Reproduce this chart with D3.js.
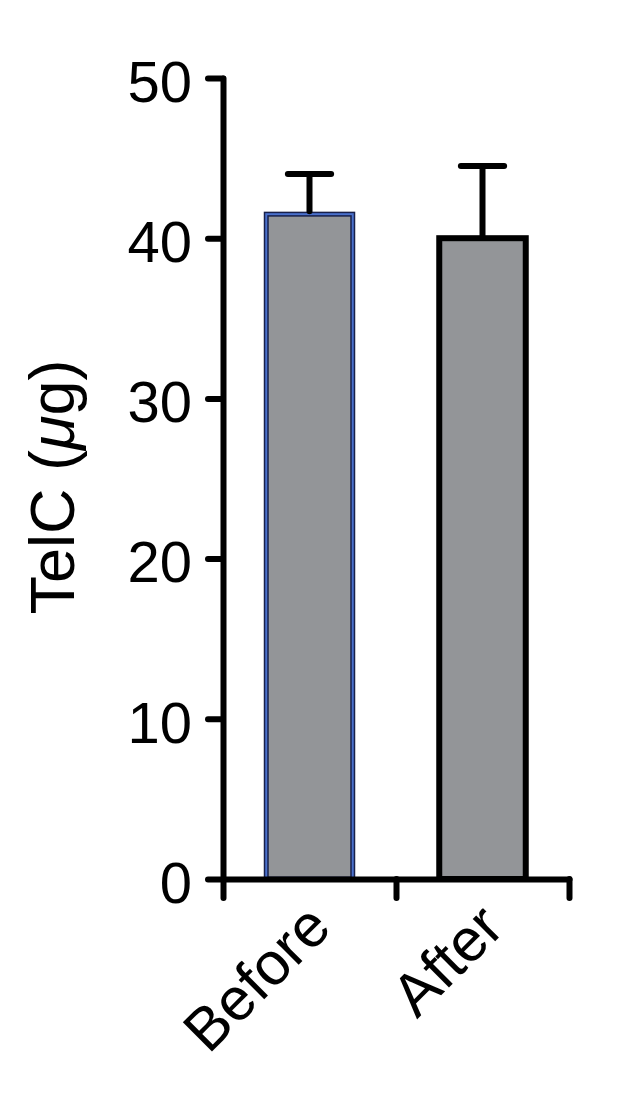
<!DOCTYPE html>
<html lang="en">
<head>
	<meta charset="UTF-8">
	<title>TelC before / after</title>
	<style>
		body { margin: 0; background: #fff; }
		.chart-svg { background-color: #fff; }
		.Axis path,
		.Axis line {
			stroke: #000;
			stroke-width: 6;
			stroke-linecap: round;
		}
		.Axis text {
			font-family: Helvetica, Arial, "Liberation Sans", sans-serif;
			font-size: 58px;
			fill: #000;
		}
		.lbl {
			font-family: Helvetica, Arial, "Liberation Sans", sans-serif;
			fill: #000;
		}
	</style>
	<script src="https://d3js.org/d3.v7.min.js"></script>
</head>
<body>
	<script type="text/javascript">

		// data
		var groups = ["Before", "After"];
		var means  = [41.5, 40.0];
		var errs   = [2.5, 4.5];      // upper SD only
		var yTicks = [0, 10, 20, 30, 40, 50];

		const w = 617,
			  h = 1100;

		const svg = d3.select("body")
			        .append("svg")
			        .attr("width", w)
			        .attr("height", h)
			        .attr("class", "chart-svg");

		var yScale = d3.scaleLinear()
					   .domain([0, 50])
					   .range([879, 78]);

		var xScale = d3.scaleBand()
					   .domain(groups)
					   .range([223, 569])
					   .padding(0);

		// x axis: ticks sit on the band edges, not on centres
		var edgeScale = d3.scaleLinear()
						  .domain([0, groups.length])
						  .range(xScale.range());

		var barW = xScale.bandwidth() * 0.5;

		// bars
		svg.append("g").selectAll("rect")
		   .data(groups).enter()
		   .append("rect")
		   .attr("x", (d) => xScale(d) + (xScale.bandwidth() - barW) / 2)
		   .attr("y", (d, i) => yScale(means[i]))
		   .attr("width", barW)
		   .attr("height", (d, i) => yScale(0) - yScale(means[i]))
		   .attr("fill", "#939598")
		   .attr("stroke", (d, i) => i === 0 ? "#18204a" : "#000")
		   .attr("stroke-width", (d, i) => i === 0 ? 5 : 6);

		// the first bar has a blue inner line in its border
		svg.append("rect")
		   .attr("x", xScale(groups[0]) + (xScale.bandwidth() - barW) / 2)
		   .attr("y", yScale(means[0]))
		   .attr("width", barW)
		   .attr("height", yScale(0) - yScale(means[0]))
		   .attr("fill", "none")
		   .attr("stroke", "#4a70cc")
		   .attr("stroke-width", 2);

		// error bars (upper only)
		var eb = svg.append("g")
					.attr("stroke", "#000")
					.attr("stroke-width", 6)
					.attr("stroke-linecap", "round");

		eb.selectAll("line.v")
		  .data(groups).enter()
		  .append("line")
		  .attr("class", "v")
		  .attr("x1", (d) => xScale(d) + xScale.bandwidth() / 2)
		  .attr("x2", (d) => xScale(d) + xScale.bandwidth() / 2)
		  .attr("y1", (d, i) => yScale(means[i]) - 3)
		  .attr("y2", (d, i) => yScale(means[i] + errs[i]));

		eb.selectAll("line.cap")
		  .data(groups).enter()
		  .append("line")
		  .attr("class", "cap")
		  .attr("x1", (d) => xScale(d) + xScale.bandwidth() / 2 - barW / 4)
		  .attr("x2", (d) => xScale(d) + xScale.bandwidth() / 2 + barW / 4)
		  .attr("y1", (d, i) => yScale(means[i] + errs[i]))
		  .attr("y2", (d, i) => yScale(means[i] + errs[i]));

		// y axis
		var yAxis = d3.axisLeft(yScale)
					  .tickValues(yTicks)
					  .tickSize(15)
					  .tickSizeOuter(0)
					  .tickPadding(16);
		var gy = svg.append("g")
		   .attr("class", "Axis")
		   .attr("transform", "translate(223,0)")
		   .call(yAxis);
		gy.selectAll("text").attr("dy", "0.4em");

		// x axis
		var xAxis = d3.axisBottom(edgeScale)
					  .tickValues(d3.range(groups.length + 1))
					  .tickSize(19)
					  .tickSizeOuter(0)
					  .tickFormat("");
		svg.append("g")
		   .attr("class", "Axis")
		   .attr("transform", "translate(0,879)")
		   .call(xAxis);

		// category labels, turned 45 degrees
		svg.append("g").selectAll("text")
		   .data(groups).enter()
		   .append("text")
		   .attr("class", "lbl")
		   .attr("font-size", 60)
		   .attr("text-anchor", "end")
		   .attr("transform", (d) => "translate(" + (xScale(d) + xScale.bandwidth() / 2 + 24) + ",930) rotate(-45)")
		   .text((d) => d);

		// y title
		var yt = svg.append("text")
		   .attr("class", "lbl")
		   .attr("font-size", 63)
		   .attr("text-anchor", "middle")
		   .attr("transform", "translate(74,487) rotate(-90)");
		yt.append("tspan").text("TelC (");
		yt.append("tspan").attr("font-style", "italic").text("\u03bc");
		yt.append("tspan").text("g)");

	</script>
</body>
</html>
